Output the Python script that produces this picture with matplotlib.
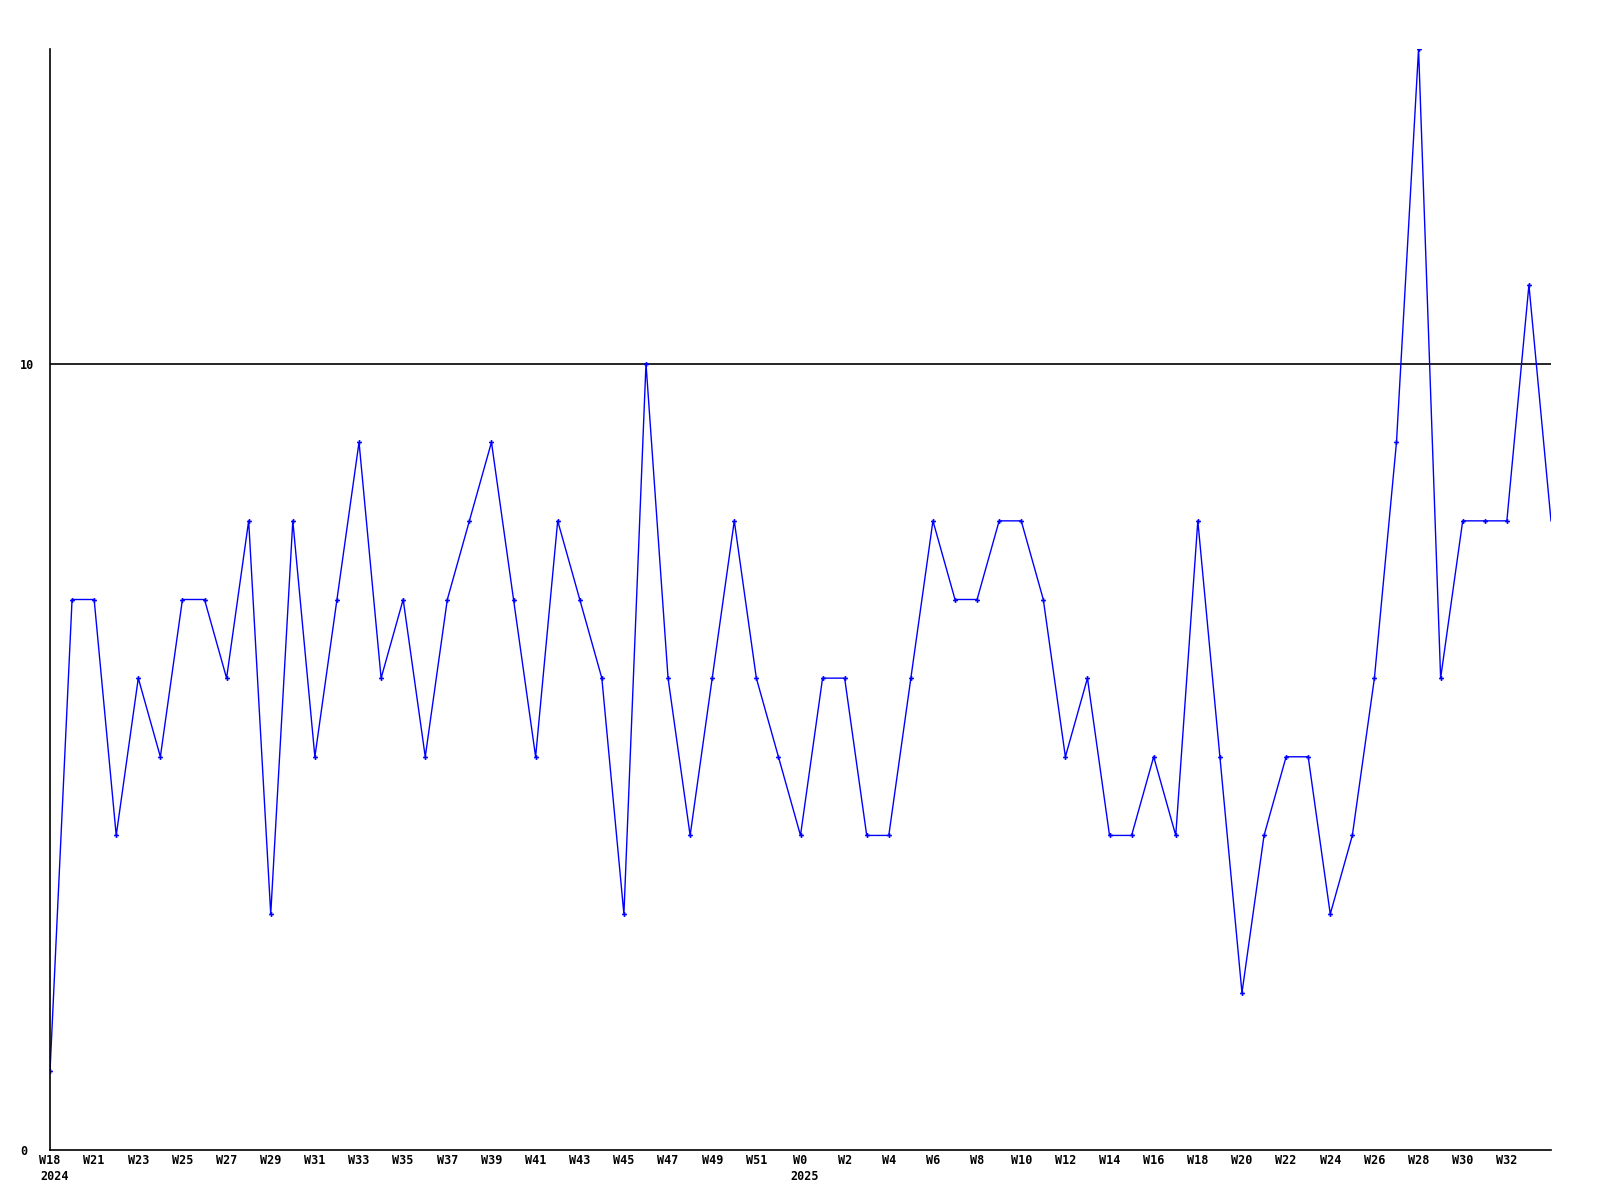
import matplotlib
matplotlib.use("Agg")
import matplotlib.pyplot as plt
import matplotlib.transforms as mtransforms

# weekly counts, W18 2024 .. W34 2025
values = [1, 7, 7, 4, 6, 5, 7, 7, 6, 8, 3, 8, 5, 7, 9, 6, 7, 5, 7, 8,
          9, 7, 5, 8, 7, 6, 3, 10, 6, 4, 6, 8, 6, 5, 4, 6, 6, 4, 4, 6,
          8, 7, 7, 8, 8, 7, 5, 6, 4, 4, 5, 4, 8, 5, 2, 4, 5, 5, 3, 4,
          6, 9, 14, 6, 8, 8, 8, 11, 8]

tick_labels = (["W18"] + ["W%d" % w for w in range(21, 52, 2)]
               + ["W0"] + ["W%d" % w for w in range(2, 33, 2)])
tick_pos = list(range(0, 2 * len(tick_labels), 2))

# year labels sit under the first week of each year
years = ["2024", "2025"]
year_pos = [0, 34]

y_ticks = [0, 10]

fig = plt.figure(figsize=(16, 12), dpi=100)
ax = fig.add_axes([50 / 1600, 50 / 1200, 1501 / 1600, 1101 / 1200])

x = list(range(len(values)))
ax.plot(x, values, color="#0000ff", lw=1.0, marker="P", markersize=3.5,
        markevery=list(range(len(values) - 1)), markeredgewidth=0)

ax.axhline(10, color="black", lw=1.2, zorder=0)

ax.set_xlim(0, len(values) - 1)
ax.set_ylim(0, 14)

for s in ["top", "right"]:
    ax.spines[s].set_visible(False)
for s in ["left", "bottom"]:
    ax.spines[s].set_linewidth(1.2)

font = dict(family="DejaVu Sans Mono", weight="bold", size=8.5)
ax.set_xticks(tick_pos)
ax.set_xticklabels(tick_labels, fontdict=font)
ax.set_yticks(y_ticks)
ax.set_yticklabels([str(t) for t in y_ticks], fontdict=font, ha="left")
ax.tick_params(axis="x", length=0, pad=3)
ax.tick_params(axis="y", length=0, pad=21.6)

base = mtransforms.blended_transform_factory(ax.transData, ax.transAxes)
for pos, yr in zip(year_pos, years):
    tr = mtransforms.offset_copy(base, fig=fig, x=-10, y=-27, units="dots")
    ax.text(pos, 0, yr, transform=tr, ha="left", va="center", **font)

fig.savefig("out.png", dpi=100)
